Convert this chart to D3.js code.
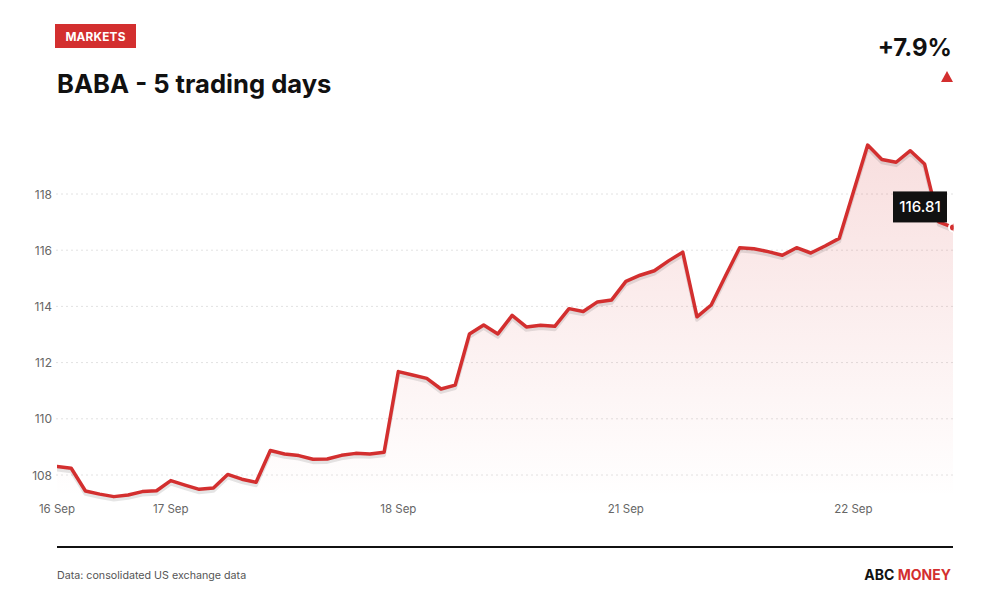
<!DOCTYPE html>
<html>
<head>
<meta charset="utf-8">
<script src="https://cdn.jsdelivr.net/npm/d3@7"></script>
<style>
  html, body { margin: 0; padding: 0; background: #fff; }
  svg { display: block; font-family: Inter, "Noto Sans", sans-serif; }
</style>
</head>
<body>
<svg id="chart" width="1000" height="600"></svg>
<script>
// ---- data ----
const prices = [
  108.30, 108.24, 107.43, 107.32, 107.23, 107.29, 107.41, 107.44,
  107.80, 107.64, 107.49, 107.54, 108.02, 107.85, 107.74, 108.87,
  108.75, 108.69, 108.56, 108.57, 108.70, 108.77, 108.75, 108.81,
  111.68, 111.56, 111.44, 111.06, 111.20, 113.02, 113.34, 113.02,
  113.68, 113.27, 113.33, 113.29, 113.92, 113.82, 114.16, 114.23,
  114.89, 115.11, 115.27, 115.62, 115.93, 113.63, 114.05, 115.08,
  116.09, 116.05, 115.95, 115.82, 116.09, 115.90, 116.15, 116.42,
  118.08, 119.74, 119.23, 119.13, 119.54, 119.07, 117.01, 116.81
];
const dayLabels = ["16 Sep", "17 Sep", "18 Sep", "21 Sep", "22 Sep"];
const dayStartIndex = [0, 8, 24, 40, 56];
const yTicks = [108, 110, 112, 114, 116, 118];
const changeText = "+7.9%";
const lastLabel = "116.81";

const RED = "#d32f2f";
const svg = d3.select("#chart");

const left = 57, right = 953;
const x = d3.scaleLinear().domain([0, prices.length - 1]).range([left, right]);
const y = d3.scaleLinear().domain([108, 118]).range([475, 194]);
const plotBottom = 497, plotTop = 120;

// defs
const defs = svg.append("defs");
const grad = defs.append("linearGradient").attr("id", "areaGrad")
  .attr("gradientUnits", "userSpaceOnUse")
  .attr("x1", 0).attr("y1", 140).attr("x2", 0).attr("y2", plotBottom);
grad.append("stop").attr("offset", "0%").attr("stop-color", RED).attr("stop-opacity", 0.16);
grad.append("stop").attr("offset", "100%").attr("stop-color", RED).attr("stop-opacity", 0.0);
defs.append("clipPath").attr("id", "plotClip").append("rect")
  .attr("x", left).attr("y", plotTop).attr("width", right - left + 0.5).attr("height", plotBottom - plotTop + 5);

// header
svg.append("rect").attr("x", 55).attr("y", 24).attr("width", 81).attr("height", 24).attr("fill", RED);
svg.append("text").attr("x", 95.5).attr("y", 40.5).attr("text-anchor", "middle")
  .attr("fill", "#fff").attr("font-size", 11.8).attr("font-weight", 700).attr("letter-spacing", 0.2)
  .text("MARKETS");
svg.append("text").attr("x", 57).attr("y", 93).attr("fill", "#111")
  .attr("font-size", 25.6).attr("font-weight", 700)
  .text("BABA - 5 trading days");
svg.append("text").attr("x", 952).attr("y", 56).attr("text-anchor", "end").attr("fill", "#111")
  .attr("font-size", 24).attr("font-weight", 700)
  .text(changeText);
svg.append("path").attr("d", "M941,82 L947,71 L953,82 Z").attr("fill", RED);

// gridlines + y labels
const grid = svg.append("g");
grid.selectAll("line").data(yTicks).join("line")
  .attr("x1", left - 1).attr("x2", right).attr("y1", d => y(d)).attr("y2", d => y(d))
  .attr("stroke", "#e2e2e2").attr("stroke-width", 1).attr("stroke-dasharray", "2,3");
grid.selectAll("text").data(yTicks).join("text")
  .attr("x", 52).attr("y", d => y(d) + 4.5).attr("text-anchor", "end")
  .attr("fill", "#666").attr("font-size", 12)
  .text(d => d);

// x labels
svg.append("g").selectAll("text").data(dayLabels).join("text")
  .attr("x", (d, i) => x(dayStartIndex[i])).attr("y", 513).attr("text-anchor", "middle")
  .attr("fill", "#666").attr("font-size", 11.5)
  .text(d => d);

const plot = svg.append("g").attr("clip-path", "url(#plotClip)");

// area
const area = d3.area().x((d, i) => x(i)).y0(plotBottom).y1(d => y(d));
plot.append("path").datum(prices).attr("d", area).attr("fill", "url(#areaGrad)");

// line shadow
const line = d3.line().x((d, i) => x(i)).y(d => y(d));
plot.append("path").datum(prices).attr("d", line)
  .attr("transform", "translate(0,3)")
  .attr("fill", "none").attr("stroke", "#000").attr("stroke-opacity", 0.1)
  .attr("stroke-width", 3.8).attr("stroke-linejoin", "round");
// line
plot.append("path").datum(prices).attr("d", line)
  .attr("fill", "none").attr("stroke", RED).attr("stroke-width", 3.5)
  .attr("stroke-linejoin", "round").attr("stroke-linecap", "round");

// last point
const li = prices.length - 1;
plot.append("circle").attr("cx", x(li)).attr("cy", y(prices[li])).attr("r", 4)
  .attr("fill", RED).attr("stroke", "#fff").attr("stroke-width", 2);

// last value label
const lx = x(li), ly = y(prices[li]);
svg.append("rect").attr("x", lx - 60).attr("y", ly - 36).attr("width", 54).attr("height", 31).attr("fill", "#111");
svg.append("text").attr("x", lx - 33).attr("y", ly - 15).attr("text-anchor", "middle")
  .attr("fill", "#fff").attr("font-size", 15).attr("font-weight", 500)
  .text(lastLabel);

// footer
svg.append("line").attr("x1", left).attr("x2", right).attr("y1", 547).attr("y2", 547)
  .attr("stroke", "#111").attr("stroke-width", 2);
svg.append("text").attr("x", 57).attr("y", 579).attr("fill", "#555").attr("font-size", 10.7)
  .text("Data: consolidated US exchange data");
const brand = svg.append("text").attr("x", 951).attr("y", 580).attr("text-anchor", "end")
  .attr("font-size", 14).attr("font-weight", 700);
brand.append("tspan").attr("fill", "#111").text("ABC ");
brand.append("tspan").attr("fill", RED).text("MONEY");
</script>
</body>
</html>
